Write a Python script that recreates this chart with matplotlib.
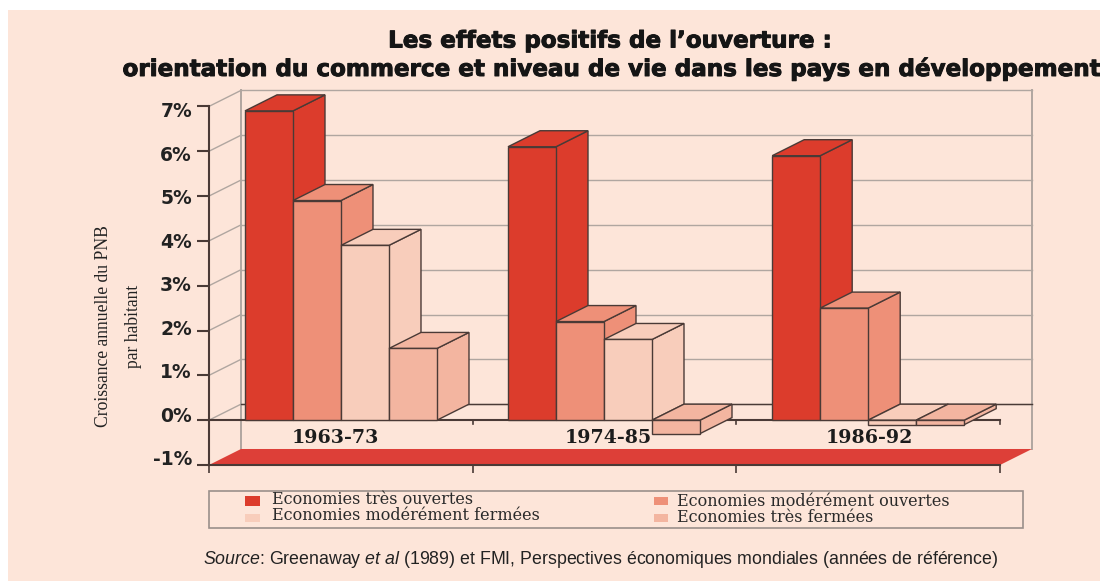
import matplotlib
matplotlib.use("Agg")
import matplotlib.pyplot as plt
import matplotlib.patheffects as pe
from matplotlib.patches import Rectangle

periods = ["1963-73", "1974-85", "1986-92"]
tres_ouvertes = [6.9, 6.1, 5.9]
mod_ouvertes = [4.9, 2.2, 2.5]
mod_fermees = [3.9, 1.8, -0.1]
tres_fermees = [1.6, -0.3, -0.1]
series_names = ["Economies très ouvertes", "Economies modérément ouvertes",
                "Economies modérément fermées", "Economies très fermées"]
y_ticks = [-1, 0, 1, 2, 3, 4, 5, 6, 7]
y_labels = ["-1%", "0%", "1%", "2%", "3%", "4%", "5%", "6%", "7%"]

W, H = 1100, 581
BG = "#FDE5D9"
RED = "#DC3C2C"
colors = [RED, "#EE9078", "#F8CDBB", "#F3B5A0"]
EDGE = "#4a3a36"
GRID = "#b0a6a0"

plt.rcParams["mathtext.fontset"] = "custom"
plt.rcParams["mathtext.rm"] = "Liberation Sans"
plt.rcParams["mathtext.it"] = "Liberation Sans:italic"

fig = plt.figure(figsize=(W / 100, H / 100), dpi=100, facecolor="white")
fig.patches.append(Rectangle((8 / W, 0), 1 - 8 / W, 1 - 10 / H, transform=fig.transFigure,
                             fc=BG, ec="none", zorder=-2))

# axes frame: x runs over the three periods, y in percent
ax = fig.add_axes([209 / W, 1 - 465 / H, 791 / W, 358.6 / H])
ax.set_xlim(0, 3)
ax.set_ylim(-1, 7)
ax.patch.set_alpha(0)
for s in ["top", "right"]:
    ax.spines[s].set_visible(False)
for s in ["left", "bottom"]:
    ax.spines[s].set_color(EDGE)
    ax.spines[s].set_linewidth(1.5)
ax.set_yticks(y_ticks)
ax.set_yticklabels([])
ax.set_xticks([0, 1, 2, 3])
ax.set_xticklabels([])
ax.tick_params(axis="y", length=9, width=1.5, color=EDGE)
ax.tick_params(axis="x", length=6, width=1.2, color=EDGE)

# depth of the fake 3d box, in data units
dx = 32 / (791 / 3)
dy = 16 / 44.8
bar_w = 48 / (791 / 3)
group_start = [0.1365, 1.134, 2.136]


def para(xs, ys, fc, z, ec=EDGE, lw=1.0):
    ax.fill(xs, ys, fc=fc, ec=ec, lw=lw, zorder=z, clip_on=False, joinstyle="miter")


def gline(xs, ys, c=GRID, lw=1.0, z=1):
    ax.plot(xs, ys, color=c, lw=lw, zorder=z, clip_on=False)


# walls and grid
for v in y_ticks[1:]:
    gline([0, dx], [v, v + dy])
    gline([dx, 3 + dx], [v + dy, v + dy])
gline([dx, dx], [-1 + dy, 7 + dy], lw=1.4)
gline([3 + dx, 3 + dx], [-1 + dy, 7 + dy], lw=1.4)
gline([dx, 3 + dx], [dy, dy], c=EDGE, lw=1.0, z=1.5)
para([0, 3, 3 + dx, dx], [-1, -1, -1 + dy, -1 + dy], "#DD3F38", 2, ec="none", lw=0)
gline([0, 3], [0, 0], c=EDGE, lw=1.5, z=2)
for t in [1, 2, 3]:
    gline([t, t], [0, -0.09], c=EDGE, lw=1.2, z=2)

# bars, painted left to right
series = [tres_ouvertes, mod_ouvertes, mod_fermees, tres_fermees]
z = 3
for g in range(len(periods)):
    for k, vals in enumerate(series):
        v = vals[g]
        x0 = group_start[g] + k * bar_w
        x1 = x0 + bar_w
        top = max(v, 0)
        bottom = min(v, 0)
        para([x1, x1 + dx, x1 + dx, x1], [bottom, bottom + dy, top + dy, top], colors[k], z)
        para([x0, x1, x1 + dx, x0 + dx], [top, top, top + dy, top + dy], colors[k], z + 0.1)
        para([x0, x1, x1, x0], [bottom, bottom, top, top], colors[k], z + 0.2)
        z += 1

for t, lab in zip([0.48, 1.515, 2.505], periods):
    ax.text(t, -0.39, lab, ha="center", va="center", family="DejaVu Serif", fontsize=13.7,
            fontweight="bold", color="#1c1c1c", zorder=40)

for v, lab in zip(y_ticks, y_labels):
    # labels sit slightly lower than their ticks in the original
    ax.text(-17 / (791 / 3), 0.09 + v * 0.97, lab, ha="right", va="center", fontsize=13.5,
            fontweight="bold", color="#222222", clip_on=False)


def ftext(x, y, s, **kw):
    fig.text(x / W, 1 - y / H, s, **kw)


heavy = [pe.withStroke(linewidth=0.7, foreground="#151515")]
ftext(609, 41, "Les effets positifs de l’ouverture :", ha="center", va="center", fontsize=16.6,
      fontweight="bold", color="#151515", path_effects=heavy)
ftext(609, 69, "orientation du commerce et niveau de vie dans les pays en développement", ha="center",
      va="center", fontsize=16.6, fontweight="bold", color="#151515", path_effects=heavy)

ftext(104, 326, "Croissance annuelle du PNB", rotation=90, ha="center", va="center",
      family="Liberation Serif", fontsize=12.7, color="#222222")
ftext(133, 326, "par habitant", rotation=90, ha="center", va="center",
      family="Liberation Serif", fontsize=12.7, color="#222222")

# legend box
fig.patches.append(Rectangle((209 / W, 1 - 528 / H), 814 / W, 37 / H, transform=fig.transFigure,
                             fc=BG, ec="#9a8f8a", lw=1.2))
legend_pos = [(245, 495.5, 15, 10.5, 272, 500), (654, 497, 14, 8, 677, 502),
              (245, 514, 15, 8, 272, 516), (654, 514, 14, 8, 677, 518)]
for (sx, sy, sw, sh, tx, ty), c, name in zip(legend_pos, colors, series_names):
    fig.patches.append(Rectangle((sx / W, 1 - (sy + sh) / H), sw / W, sh / H,
                                 transform=fig.transFigure, fc=c, ec="none"))
    ftext(tx, ty, name, ha="left", va="center", family="DejaVu Serif", fontsize=11.5, color="#2a2a2a")

ftext(203, 559, r"$\mathit{Source}$: Greenaway $\mathit{et\ al}$ (1989) et FMI, Perspectives économiques mondiales (années de référence)",
      ha="left", va="center", family="Liberation Sans", fontsize=12.8, color="#222222")

fig.savefig("out.png", dpi=100)
